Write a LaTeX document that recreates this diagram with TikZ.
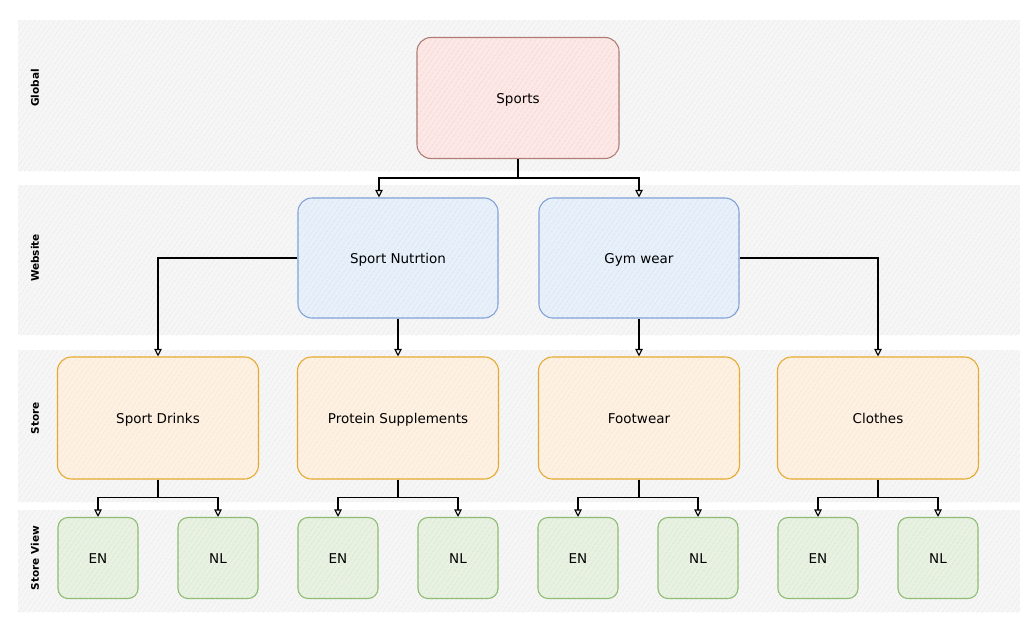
\documentclass[tikz,border=0pt]{standalone}
\usepackage{fontspec}
\setmainfont{DejaVu Sans}
\usetikzlibrary{arrows.meta,patterns.meta}

\definecolor{lanefill}{RGB}{246,246,246}
\definecolor{lanehatch}{RGB}{222,222,222}
\definecolor{globalfill}{RGB}{252,232,230}
\definecolor{globalhatch}{RGB}{244,190,186}
\definecolor{globalline}{RGB}{172,122,116}
\definecolor{sitefill}{RGB}{232,240,250}
\definecolor{sitehatch}{RGB}{196,214,240}
\definecolor{siteline}{RGB}{126,160,214}
\definecolor{storefill}{RGB}{253,241,228}
\definecolor{storehatch}{RGB}{250,214,176}
\definecolor{storeline}{RGB}{229,168,42}
\definecolor{viewfill}{RGB}{232,241,226}
\definecolor{viewhatch}{RGB}{198,222,186}
\definecolor{viewline}{RGB}{140,187,112}

\begin{document}
\begin{tikzpicture}[x=1pt,y=-1pt,
        hatch/.style={postaction={pattern={Lines[angle=55,distance=4pt,line width=0.5pt]},pattern color=#1}},
        lane/.style={fill=lanefill,draw=none,hatch=lanehatch},
        lanelabel/.style={rotate=90,font=\bfseries\fontsize{10.5}{12}\selectfont},
        box/.style={draw,line width=1.1pt,rounded corners=14pt,minimum width=200pt,minimum height=120pt,
            font=\fontsize{13.5}{16}\selectfont,text height=2.2ex,text depth=0.3ex},
        globalbox/.style={box,draw=globalline,fill=globalfill,hatch=globalhatch,minimum width=202pt,minimum height=121pt},
        sitebox/.style={box,draw=siteline,fill=sitefill,hatch=sitehatch},
        storebox/.style={box,draw=storeline,fill=storefill,hatch=storehatch,minimum width=201pt,minimum height=122pt},
        viewbox/.style={box,draw=viewline,fill=viewfill,hatch=viewhatch,minimum width=80pt,minimum height=81pt,rounded corners=10pt},
        link/.style={draw=black,line width=1.1pt,-{Triangle[open,length=7.5pt,width=7.5pt]}}]
        \useasboundingbox (0,0) rectangle (1031,621);

        % lanes
        \path[lane] (18,20) rectangle (1020,171);
        \path[lane] (18,185) rectangle (1020,335);
        \path[lane] (18,350) rectangle (1020,502);
        \path[lane] (18,510) rectangle (1020,612);
        \node[lanelabel] (lglobal) at (35,88) {Global};
        \node[lanelabel] (lsite) at (35,258) {Website};
        \node[lanelabel] (lstore) at (35,418) {Store};
        \node[lanelabel] (lview) at (35,558) {Store View};

        % global and website
        \node[globalbox] (sports) at (518,98) {Sports};
        \node[sitebox] (nutrition) at (398,258) {Sport Nutrtion};
        \node[sitebox] (gymwear) at (639,258) {Gym wear};

        % stores
        \node[storebox] (drinks) at (158,418) {Sport Drinks};
        \node[storebox] (protein) at (398,418) {Protein Supplements};
        \node[storebox] (footwear) at (639,418) {Footwear};
        \node[storebox] (clothes) at (878,418) {Clothes};

        % links
        \coordinate (sportsfork) at (518,178);
        \draw[link] (sports.south) -- (sportsfork) -| ([xshift=-19pt]nutrition.north);
        \draw[link] (sportsfork) -| (gymwear.north);
        \draw[link] (nutrition.west) -| (drinks.north);
        \draw[link] (nutrition.south) -- (protein.north);
        \draw[link] (gymwear.south) -- (footwear.north);
        \draw[link] (gymwear.east) -| (clothes.north);

        % store views
        \foreach \store/\xa in {drinks/98, protein/338, footwear/578, clothes/818} {
            \node[viewbox] (\store-en) at (\xa,558) {EN};
            \node[viewbox] (\store-nl) at (\xa+120,558) {NL};
            \draw[link] (\store.south) -- ++(0,18) -| (\store-en.north);
            \draw[link] (\store.south) -- ++(0,18) -| (\store-nl.north);
        }
\end{tikzpicture}
\end{document}
